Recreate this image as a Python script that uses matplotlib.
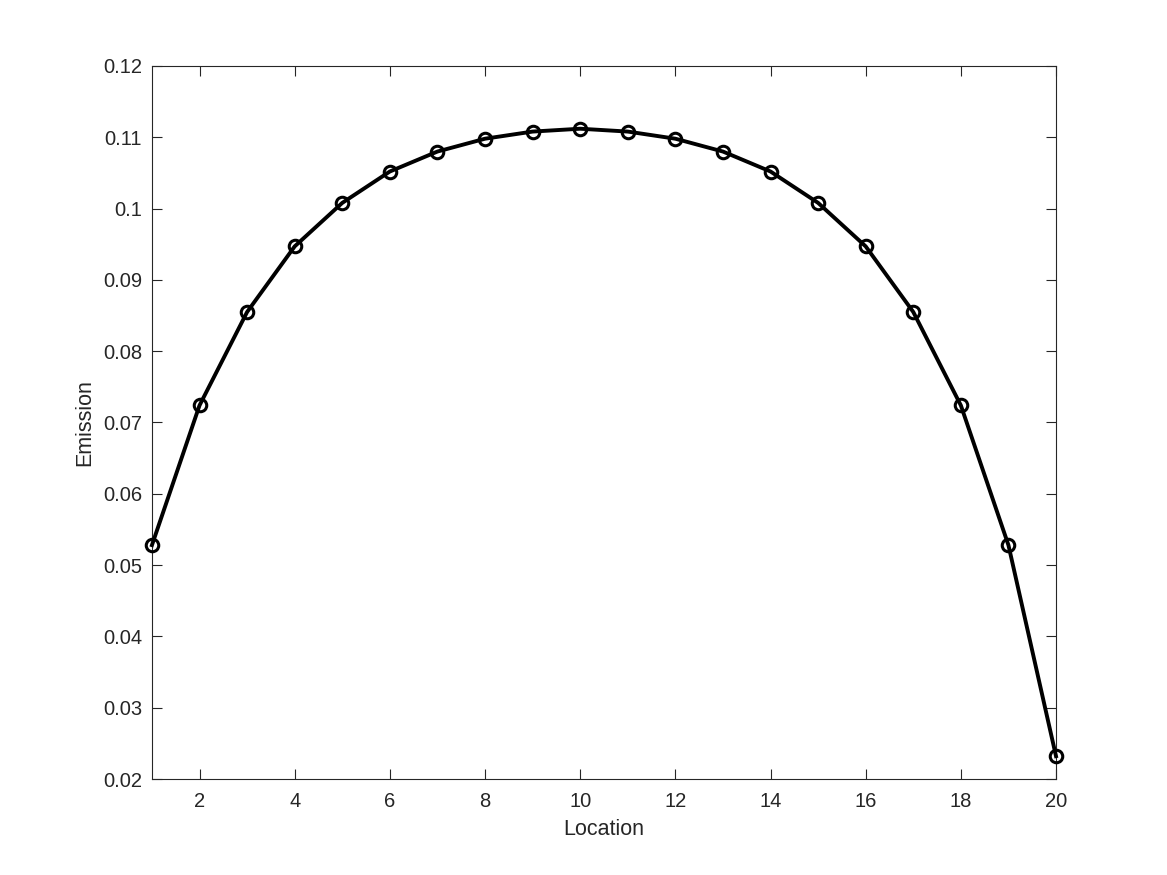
import matplotlib
matplotlib.use("Agg")
import matplotlib.pyplot as plt

location = list(range(1, 21))
emission = [0.0528, 0.0724, 0.0855, 0.0947, 0.1008, 0.1052, 0.1080, 0.1098, 0.1108, 0.1112,
            0.1108, 0.1098, 0.1080, 0.1052, 0.1008, 0.0947, 0.0855, 0.0724, 0.0528, 0.0232]
xticks = list(range(2, 21, 2))
yticks = [0.02, 0.03, 0.04, 0.05, 0.06, 0.07, 0.08, 0.09, 0.10, 0.11, 0.12]
yticklabels = ["0.02", "0.03", "0.04", "0.05", "0.06", "0.07", "0.08", "0.09", "0.1", "0.11", "0.12"]

plt.rcParams['font.family'] = ['Liberation Sans', 'DejaVu Sans']

fig = plt.figure(figsize=(11.67, 8.75), dpi=100)
ax = fig.add_axes([0.1302, 0.1097, 0.7747, 0.8149])
ax.plot(location, emission, color='black', linewidth=2.8, marker='o', markersize=9,
        markerfacecolor='none', markeredgecolor='black', markeredgewidth=2.2, clip_on=False,
        zorder=5)
ax.set_xlim(1, 20)
ax.set_ylim(0.02, 0.12)
ax.set_xticks(xticks)
ax.set_yticks(yticks)
ax.set_yticklabels(yticklabels)
ax.tick_params(direction='in', top=True, right=True, length=7, width=0.8,
               labelsize=14.5, colors='#262626', pad=7)
ax.tick_params(axis='x', pad=9)
for s in ax.spines.values():
    s.set_linewidth(0.8)
    s.set_color('#262626')
ax.set_xlabel('Location', fontsize=15.5, color='#262626', labelpad=6)
ax.set_ylabel('Emission', fontsize=15.5, color='#262626', labelpad=6)
fig.savefig('out.png', dpi=100)
